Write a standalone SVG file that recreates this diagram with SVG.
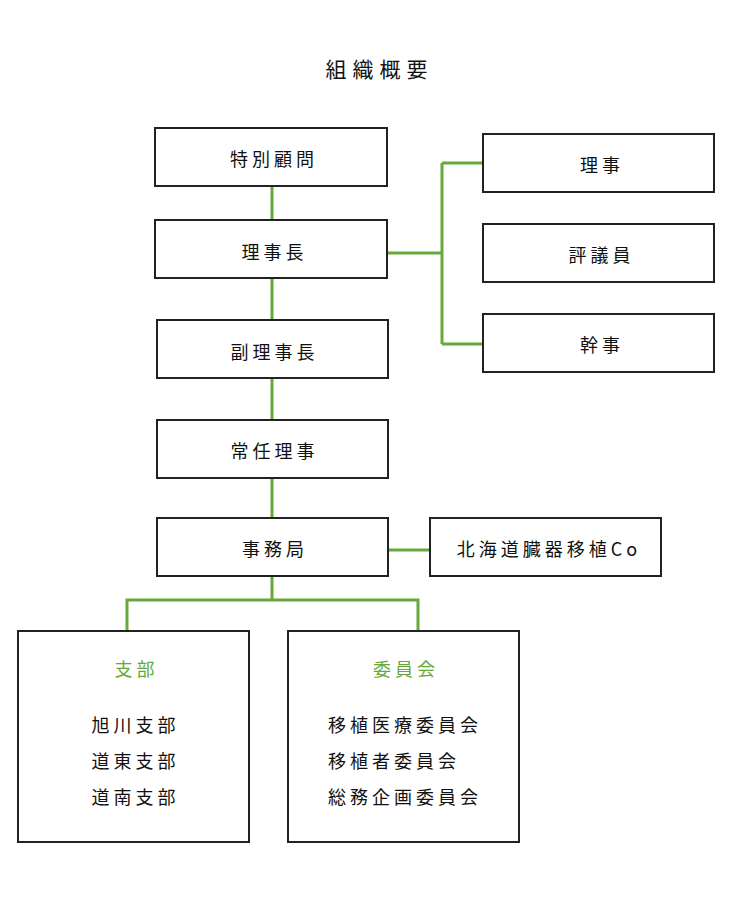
<svg xmlns="http://www.w3.org/2000/svg" width="735" height="908" viewBox="0 0 735 908">
<style>
.box{fill:#fff;stroke:#222;stroke-width:2}
.t{font-family:"Noto Sans CJK JP","Noto Sans",sans-serif;font-size:18px;font-weight:400;fill:#111;text-anchor:middle;dominant-baseline:central;letter-spacing:4px}
.g{fill:#67a83a}
.title{font-size:21px;letter-spacing:6px}
.c{fill:none;stroke:#67a83a;stroke-width:3}
</style>
<rect width="735" height="908" fill="#fff"/>
<text class="t title" x="379.5" y="68">組織概要</text>
<g id="connectors">
<path class="c" d="M272 187V220M272 278V320M272 378V420M272 478V518"/>
<path class="c" d="M388 253H442M442 163V344M442 163H483M442 344H483"/>
<path class="c" d="M388 550H430"/>
<path class="c" d="M272 577V600M127 631V600H418V631"/>
</g>
<g id="n1"><rect class="box" x="155" y="128" width="232" height="58"/><text class="t" x="274" y="158">特別顧問</text></g>
<g id="n2"><rect class="box" x="155" y="220" width="232" height="58"/><text class="t" x="274.5" y="251">理事長</text></g>
<g id="n3"><rect class="box" x="157" y="320" width="231" height="58"/><text class="t" x="274.5" y="351">副理事長</text></g>
<g id="n4"><rect class="box" x="157" y="420" width="231" height="58"/><text class="t" x="274.5" y="450">常任理事</text></g>
<g id="n5"><rect class="box" x="157" y="518" width="231" height="58"/><text class="t" x="275" y="548">事務局</text></g>
<g id="n6"><rect class="box" x="430" y="518" width="231" height="58"/><text class="t" x="549" y="548">北海道臓器移植Co</text></g>
<g id="n7"><rect class="box" x="483" y="134" width="231" height="58"/><text class="t" x="602" y="164">理事</text></g>
<g id="n8"><rect class="box" x="483" y="224" width="231" height="58"/><text class="t" x="601.5" y="254">評議員</text></g>
<g id="n9"><rect class="box" x="483" y="314" width="231" height="58"/><text class="t" x="602" y="344">幹事</text></g>
<g id="n10"><rect class="box" x="18" y="631" width="231" height="211"/>
<text class="t g" x="136.5" y="668">支部</text>
<text class="t" x="135.5" y="724">旭川支部</text>
<text class="t" x="135.5" y="760">道東支部</text>
<text class="t" x="135.5" y="796">道南支部</text></g>
<g id="n11"><rect class="box" x="288" y="631" width="231" height="211"/>
<text class="t g" x="406" y="668">委員会</text>
<text class="t" x="405" y="724">移植医療委員会</text>
<text class="t" x="394" y="760">移植者委員会</text>
<text class="t" x="405" y="796">総務企画委員会</text></g>
</svg>
